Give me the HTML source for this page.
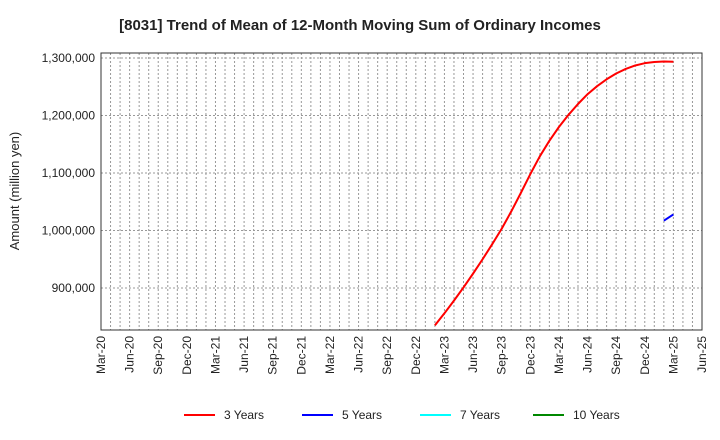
<!DOCTYPE html>
<html><head><meta charset="utf-8"><style>body{margin:0;background:#fff}svg{display:block;font-family:"Liberation Sans",sans-serif}</style></head>
<body>
<svg id="c" width="720" height="440"></svg>
<script>
const xLabels=["Mar-20","Jun-20","Sep-20","Dec-20","Mar-21","Jun-21","Sep-21","Dec-21","Mar-22","Jun-22","Sep-22","Dec-22","Mar-23","Jun-23","Sep-23","Dec-23","Mar-24","Jun-24","Sep-24","Dec-24","Mar-25","Jun-25"];
const yTicks=[900000,1000000,1100000,1200000,1300000];
const y3Start=35; // month index (Feb-23)
const y3Values=[835000,856000,878000,901000,925000,950000,976000,1003000,1033000,1065000,1098000,1129000,1156000,1180000,1201000,1220000,1237000,1251000,1263000,1273000,1281000,1287000,1291000,1293000,1294000,1293500];
const y5Start=59;
const y5Values=[1017000,1028000];
const NS="http://www.w3.org/2000/svg",svg=document.getElementById('c');
const L=101,R=702,T=53,B=330,months=63;
const x=m=>L+(R-L)*m/months;
const y=v=>58+(1300000-v)/100000*57.5;
function el(t,a,p){const e=document.createElementNS(NS,t);for(const k in a)e.setAttribute(k,a[k]);(p||svg).appendChild(e);return e;}
let t=el('text',{x:360,y:30,'text-anchor':'middle','font-size':15,'font-weight':'bold',fill:'#222'});t.textContent="[8031]  Trend of Mean of 12-Month Moving Sum of Ordinary Incomes";


for(let m=1;m<months;m++){const g=el('line',{x1:x(m),x2:x(m),y1:T,y2:B,stroke:'#999','stroke-dasharray':'2,2','stroke-width':1});

}
yTicks.forEach(v=>{const g=el('line',{x1:L,x2:R,y1:y(v),y2:y(v),stroke:'#999','stroke-dasharray':'2,2'});


const tx=el('text',{x:L-6,y:y(v)+4,'text-anchor':'end','font-size':12,fill:'#222'});tx.textContent=v.toLocaleString('en-US');

});
xLabels.forEach((s,i)=>{const px=x(i*3);const tx=el('text',{x:0,y:0,transform:`translate(${px+4},${B+6}) rotate(-90)`,'text-anchor':'end','font-size':12,fill:'#222'});tx.textContent=s;

});
const fr=el('rect',{x:L,y:T,width:R-L,height:B-T,fill:'none',stroke:'#333'});


const yt=el('text',{x:0,y:0,transform:'translate(19,191) rotate(-90)','text-anchor':'middle','font-size':13,fill:'#222'});yt.textContent="Amount (million yen)";


function line(start,vals,col,name){const p=el('polyline',{points:vals.map((v,i)=>x(start+i)+','+y(v)).join(' '),fill:'none',stroke:col,'stroke-width':2,'stroke-linejoin':'round'});

}
line(y3Start,y3Values,'#f00','series-3-years');
line(y5Start,y5Values,'#00f','series-5-years');
[["3 Years",'#f00',184],["5 Years",'#00f',302],["7 Years",'#0ff',420],["10 Years",'#080',533]].forEach(([s,c,lx])=>{
const g=el('g',{});


el('line',{x1:lx,x2:lx+31,y1:415,y2:415,stroke:c,'stroke-width':2},g);
const tx=el('text',{x:lx+40,y:419,'font-size':12,fill:'#222'},g);tx.textContent=s;});
</script>
</body></html>
